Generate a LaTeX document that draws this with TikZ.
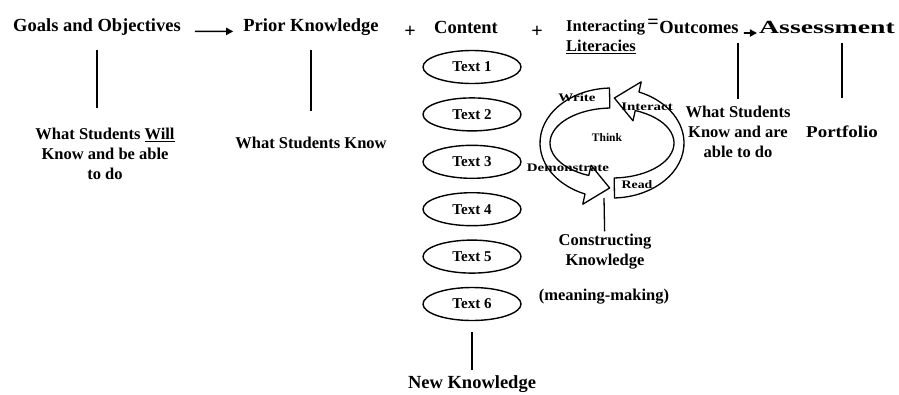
\documentclass[tikz,border=0pt]{standalone}
\usepackage{fontspec}
\setmainfont{Liberation Serif}
\usetikzlibrary{shapes.geometric, arrows.meta, positioning}

\begin{document}
\begin{tikzpicture}[x=1pt, y=-1pt,
    node distance=13pt and 20pt,
    top_label/.style={font=\fontsize{18.5}{20}\selectfont\bfseries, inner sep=1pt},
    note_label/.style={font=\fontsize{16.5}{20}\selectfont\bfseries, align=center, inner sep=1pt},
    sign_label/.style={font=\fontsize{20}{20}\selectfont\bfseries, inner sep=0pt},
    text_oval/.style={ellipse, draw, line width=1.4pt, minimum width=98pt, minimum height=33pt, inner sep=0pt, font=\fontsize{15}{16}\selectfont\bfseries},
    ring_band/.style={draw, line width=1.3pt, fill=white, line join=round},
    ring_label/.style={font=\fontsize{11.5}{12}\selectfont\bfseries, inner sep=0pt},
    stem_line/.style={line width=1.3pt},
    flow_arrow/.style={-{Triangle[length=7pt, width=7pt]}, line width=1.6pt}
]
    \useasboundingbox (0,0) rectangle (899,394);

    % Top row
    \node[top_label] (goals) at (97,27) {Goals and Objectives};
    \node[top_label] (prior) at (311,27) {Prior Knowledge};
    \node[sign_label] (plus1) at (410,32) {+};
    \node[top_label] (content) at (466,27) {Content};
    \node[sign_label] (plus2) at (537,32) {+};
    \node[top_label, font=\fontsize{16.5}{20}\selectfont\bfseries, anchor=west, align=left] (literacy) at (565,37) {Interacting\\\underline{Literacies}};
    \node[sign_label] (equals) at (653,24) {=};
    \node[top_label] (outcomes) at (699,27) {Outcomes};
    \node[top_label] (assess) at (827,27) {\scalebox{1.5}[1]{Assessment}};

    \draw[flow_arrow, shorten <=13pt, shorten >=9pt] (goals.base east) -- (prior.base west);
    \draw[flow_arrow, shorten <=4pt, shorten >=1pt] (outcomes.base east) -- (assess.base west);

    % What the students bring and reach
    \node[note_label] (willknow) at (105,154) {What Students \underline{Will}\\Know and be able\\to do};
    \node[note_label] (knownow) at (311,143) {What Students Know};
    \node[note_label] (abletodo) at (738,132) {What Students\\Know and are\\able to do};
    \node[note_label] (portfolio) at (842,132) {\scalebox{1.15}[1]{Portfolio}};

    \draw[stem_line, shorten <=13pt, shorten >=19pt] (goals.south) -- (goals.south |- willknow.north);
    \draw[stem_line, shorten <=13pt, shorten >=25pt] (prior.south) -- (prior.south |- knownow.north);
    \draw[stem_line, shorten <=9pt, shorten >=6pt] (outcomes.south -| abletodo.north) -- (abletodo.north);
    \draw[stem_line, shorten <=9pt, shorten >=27pt] (assess.south -| portfolio.north) -- (portfolio.north);

    % Content texts
    \node[text_oval] (text1) at (472,67) {Text 1};
    \node[text_oval, below=of text1] (text2) {Text 2};
    \node[text_oval, below=of text2] (text3) {Text 3};
    \node[text_oval, below=of text3] (text4) {Text 4};
    \node[text_oval, below=of text4] (text5) {Text 5};
    \node[text_oval, below=of text5] (text6) {Text 6};

    \node[top_label] (newknow) at (472,384) {New Knowledge};
    \draw[stem_line, shorten <=11pt, shorten >=4pt] (text6) -- (newknow);

    % Literacy cycle
    \begin{scope}[shift={(612,143)}, yscale=-1]
        \draw[ring_band] (92:72 and 55) arc[start angle=92, end angle=248, x radius=72, y radius=55]
            -- (248:78 and 66) -- (268:67 and 45) -- (248:56 and 24) -- (248:62 and 35)
            arc[start angle=248, end angle=92, x radius=62, y radius=35] -- cycle;
        \draw[ring_band] (272:72 and 55) arc[start angle=272, end angle=428, x radius=72, y radius=55]
            -- (428:78 and 66) -- (448:67 and 45) -- (428:56 and 24) -- (428:62 and 35)
            arc[start angle=428, end angle=272, x radius=62, y radius=35] -- cycle;
    \end{scope}
    \coordinate (ringbot) at (604,198);

    \node[ring_label] (write) at (577,98) {\scalebox{1.3}[1]{Write}};
    \node[ring_label] (interact) at (647,107) {\scalebox{1.3}[1]{Interact}};
    \node[ring_label] (think) at (607,138) {Think};
    \node[ring_label] (demonstrate) at (568,168) {\scalebox{1.3}[1]{Demonstrate}};
    \node[ring_label] (read) at (637,185) {\scalebox{1.2}[1]{Read}};

    \node[note_label] (construct) at (605,252) {Constructing\\Knowledge};
    \node[note_label] (making) at (604,297) {(meaning-making)};
    \draw[stem_line, shorten >=2pt] (ringbot) -- (construct);

\end{tikzpicture}
\end{document}
